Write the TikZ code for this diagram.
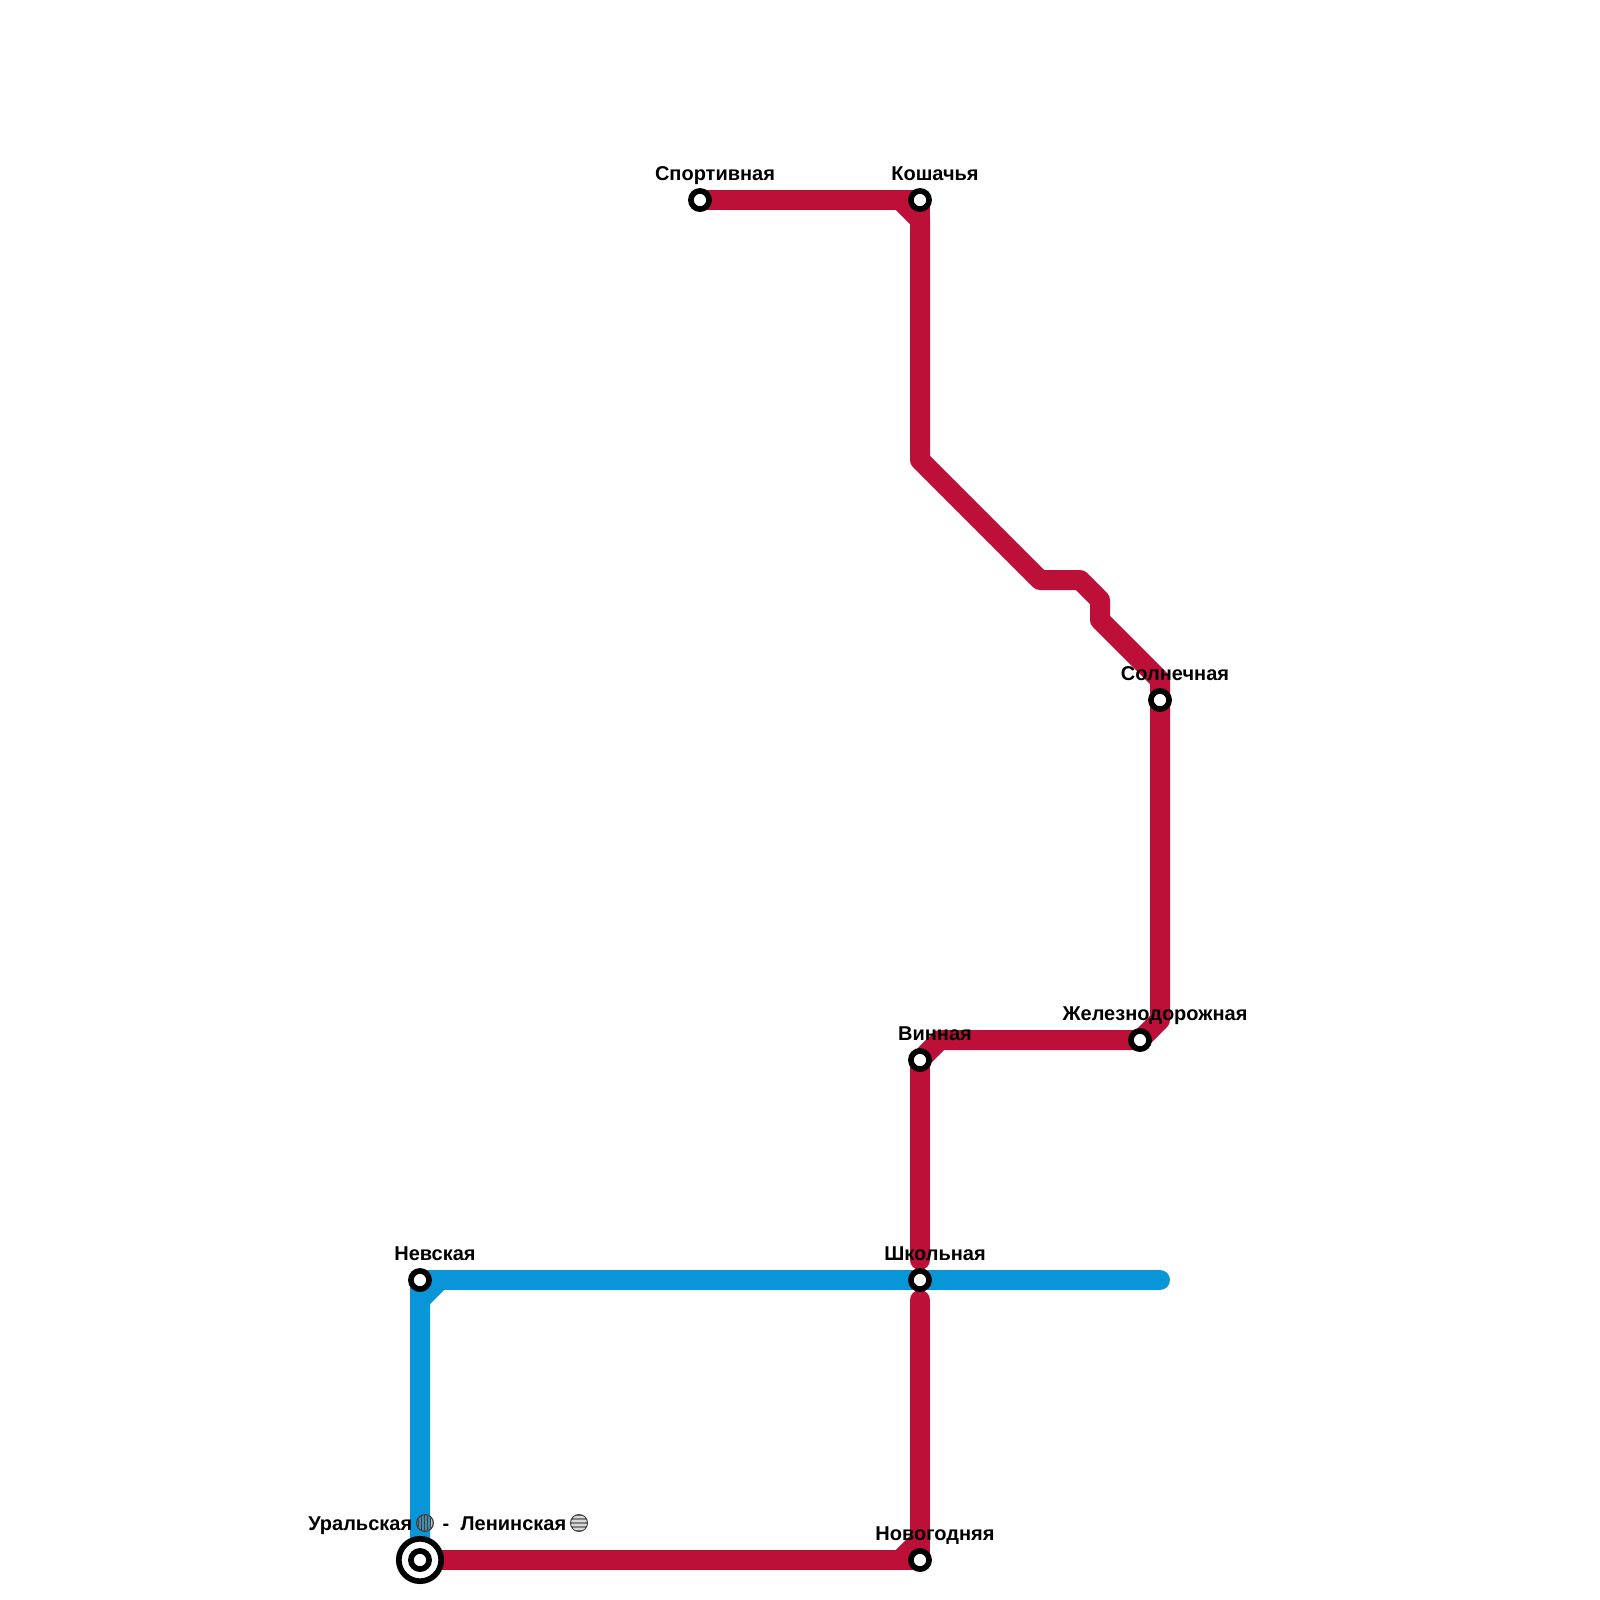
\documentclass[tikz,border=0pt]{standalone}
\usepackage{fontspec}
\setmainfont{Liberation Sans}
\usepackage{tikz}

\definecolor{redline}{RGB}{189,16,57}
\definecolor{blueline}{RGB}{9,150,217}
\definecolor{hatchgrey}{RGB}{130,130,130}

\tikzset{
	metroline/.style={line width=5pt, line cap=round, line join=round},
	station/.style={circle, draw=black, fill=white, line width=1.42pt, minimum size=4.55pt, inner sep=0pt},
	stationlabel/.style={font=\fontsize{5pt}{6pt}\bfseries, inner sep=0pt, anchor=base},
	hatchdot/.style={circle, draw=black!75, line width=0.3pt, minimum size=4.2pt, inner sep=0pt},
}

\begin{document}
\begin{tikzpicture}[x=0.25pt, y=-0.25pt]
		\useasboundingbox (0,0) rectangle (1600,1600);
		\coordinate (SportivnayaC) at (700,200);
		\coordinate (KoshachyaC) at (920,200);
		\coordinate (SolnechnayaC) at (1160,700);
		\coordinate (ZheleznC) at (1140,1040);
		\coordinate (VinnayaC) at (920,1060);
		\coordinate (ShkolnayaC) at (920,1280);
		\coordinate (NevskayaC) at (420,1280);
		\coordinate (UralskayaC) at (420,1560);
		\coordinate (NovogodnyayaC) at (920,1560);
		\coordinate (BlueEnd) at (1160,1280);
		% blue line
		\draw[metroline, blueline] (BlueEnd) -- (NevskayaC) -- (UralskayaC);
		\draw[metroline, blueline] (440,1280) -- (420,1300) -- (UralskayaC);
		% red line
		\draw[metroline, redline, line cap=butt] (SportivnayaC) -- (KoshachyaC) -- (920,220);
		\draw[metroline, redline, line cap=butt] (900,200) -- (920,220) -- (920,460) -- (1040,580) -- (1080,580)
			-- (1100,600) -- (1100,620) -- (1160,680) -- (SolnechnayaC);
		\draw[metroline, redline, line cap=butt] (SolnechnayaC) -- (1160,1020) -- (ZheleznC) -- (940,1040) -- (VinnayaC);
		\draw[metroline, redline] (VinnayaC) -- (920,1260);
		\draw[metroline, redline] (920,1300) -- (NovogodnyayaC) -- (UralskayaC);
		\draw[metroline, redline] (920,1540) -- (900,1560);
		% stations
		\node[station] (Sportivnaya) at (SportivnayaC) {};
		\node[station] (Koshachya) at (KoshachyaC) {};
		\node[station] (Solnechnaya) at (SolnechnayaC) {};
		\node[station] (Zhelezn) at (ZheleznC) {};
		\node[station] (Vinnaya) at (VinnayaC) {};
		\node[station] (Shkolnaya) at (ShkolnayaC) {};
		\node[station] (Nevskaya) at (NevskayaC) {};
		\node[station] (Novogodnyaya) at (NovogodnyayaC) {};
		% interchange
		\node[station, minimum size=10.6pt] (UralskayaOut) at (UralskayaC) {};
		\node[station] (Uralskaya) at (UralskayaC) {};
		% labels
		\node[stationlabel] (LblSportivnaya) at (715,180) {Спортивная};
		\node[stationlabel] (LblKoshachya) at (935,180) {Кошачья};
		\node[stationlabel] (LblSolnechnaya) at (1175,680) {Солнечная};
		\node[stationlabel] (LblZhelezn) at (1155,1020) {Железнодорожная};
		\node[stationlabel] (LblVinnaya) at (935,1040) {Винная};
		\node[stationlabel] (LblShkolnaya) at (935,1260) {Школьная};
		\node[stationlabel] (LblNevskaya) at (435,1260) {Невская};
		\node[stationlabel] (LblNovogodnyaya) at (935,1540) {Новогодняя};
		\node[stationlabel, anchor=base east] (LblUralskaya) at (413,1530) {Уральская};
		\node[stationlabel] (LblDash) at (446,1530) {-};
		\node[stationlabel, anchor=base east] (LblLeninskaya) at (567,1530) {Ленинская};
		% transfer marks
		\node[hatchdot, fill=hatchgrey, fill opacity=0.5] (MarkUralskaya) at (425,1523) {};
		\node[hatchdot, fill=hatchgrey] (MarkLeninskaya) at (579,1523) {};
		\begin{scope}
			\clip (425,1523) circle (8);
			\foreach \x in {418,421,424,427,430} \draw[line width=0.25pt, black!75] (\x,1513) -- (\x,1533);
		\end{scope}
		\begin{scope}
			\clip (579,1523) circle (8);
			\foreach \y in {1517,1521,1525,1529} \draw[line width=0.3pt, white, draw opacity=0.7] (569,\y) -- (589,\y);
		\end{scope}
	\end{tikzpicture}
\end{document}
